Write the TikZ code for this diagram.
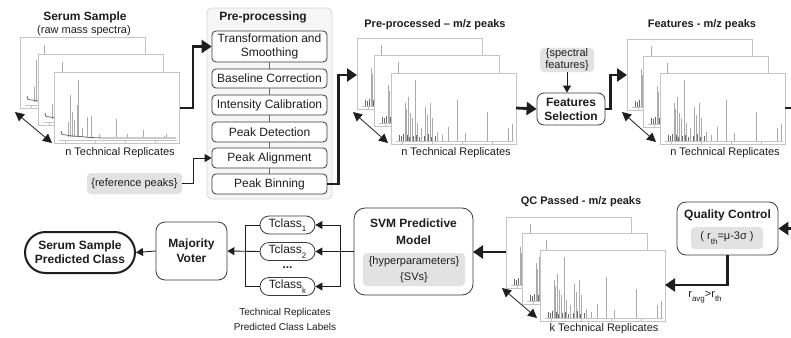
\documentclass[tikz,border=0pt]{standalone}
\usepackage{fontspec}
\setmainfont{Liberation Sans}
\usetikzlibrary{arrows.meta,calc,shapes.misc}

\definecolor{ink}{HTML}{1E1E1E}
\definecolor{boxline}{HTML}{3A3A3A}
\definecolor{chipfill}{HTML}{E2E2E2}
\definecolor{groupfill}{HTML}{F6F6F6}
\definecolor{groupline}{HTML}{D6D6D6}
\definecolor{framegray}{HTML}{C4C4C4}
\definecolor{peakgray}{HTML}{ABABAB}
\definecolor{peakdark}{HTML}{6A6A6A}

\newcommand\fsz[2]{\fontsize{#1}{#2}\selectfont}
\newcommand\lowsub[1]{\raisebox{-0.38em}{\fontsize{8}{8}\selectfont #1}}

% one spectrum panel: #1 = top-left corner, #2 = its content
\newcommand\specpanel[2]{%
  \begin{scope}[shift={(#1)}]
    \fill[white] (0,0) rectangle (125,71);
    \begin{scope}
      \clip (0,0) rectangle (125,71);
      #2
    \end{scope}
    \draw[framegray, line width=0.8pt] (0,0) rectangle (125,71);
  \end{scope}}

% raw mass spectrum: baseline trace with sharp peaks
\newcommand\rawpeaks{%
  \draw[framegray, line width=0.6pt] (5,68) -- (123,68);
  \foreach \t in {11,41,71,101} \draw[framegray, line width=0.6pt] (\t,68) -- (\t,70.5);
  \foreach \p/\h in {14/50,16/23,18/40,20/48,23/33,24/8,28/56,33/45,37/44,45/62,62/47,73/62,89/58,110/64,112/62}
    \draw[peakgray, line width=0.8pt] (\p,65) -- (\p,\h);
  \draw[peakdark, line width=0.8pt] (7,59) -- (8,62.5) -- (12,63) -- (18,64) -- (26,64.5) -- (36,65.5) -- (50,66) -- (122,66);}

% processed spectrum: centroided peak bars
\newcommand\procpeaks{%
  \draw[framegray, line width=0.6pt] (5,68) -- (123,68);
  \foreach \t in {11,41,71,101} \draw[framegray, line width=0.6pt] (\t,68) -- (\t,70.5);
  \foreach \p/\h in {14/30,15/36,17/24,19/40,21/45,24/7,26/50,30/55,34/34,36/42,39/30,41/45,46/59,51/62,57/54,66/27,74/60,96/39,117/55,121/51}
    \draw[peakgray, line width=0.8pt] (\p,67.5) -- (\p,\h);
  \foreach \p/\h in {8/62,10/63,12/61,16/62,18/64,22/63,25/62,28/64,33/63,37/61,40/64,44/63}
    \draw[peakdark, line width=0.8pt] (\p,67.5) -- (\p,\h);}

\begin{document}
\begin{tikzpicture}[x=1pt, y=-1pt,
  procbox/.style={draw=boxline, fill=white, rounded corners=4pt, line width=0.8pt,
    minimum width=115pt, inner sep=0pt, font=\fsz{12}{14}, text=ink, align=center},
  chip/.style={fill=chipfill, rounded corners=4pt, inner sep=0pt, text=ink, align=center},
  bigbox/.style={draw=boxline, fill=white, line width=0.8pt, inner sep=0pt},
  title/.style={font=\bfseries\fsz{11}{13}, text=ink, inner sep=0pt},
  label/.style={font=\fsz{11}{13}, text=ink, inner sep=0pt},
  tclass/.style={draw=boxline, fill=white, rounded rectangle, line width=0.8pt,
    minimum width=55pt, minimum height=18pt, inner sep=0pt, font=\fsz{12}{14}, text=ink},
  thickarr/.style={line width=2.8pt, draw=ink, -{Triangle[length=10pt,width=13pt]}},
  thickline/.style={line width=2.8pt, draw=ink},
  thinarr/.style={line width=0.9pt, draw=ink, -{Triangle[length=7pt,width=8pt]}},
  thinline/.style={line width=0.9pt, draw=ink},
  reparr/.style={line width=0.8pt, draw=ink,
    {Triangle[length=9pt,width=9pt]}-{Triangle[length=9pt,width=9pt]}},
  chain/.style={line width=0.7pt, draw=peakdark}]

\useasboundingbox (0,0) rectangle (791,337);

% ---------- raw serum spectra ----------
\node[title, font=\bfseries\fsz{12}{14}] (rawtitle) at (85,17) {Serum Sample};
\node[label] (rawsub) at (84,31) {(raw mass spectra)};
\specpanel{20,37}{\rawpeaks}
\specpanel{38,54}{\rawpeaks}
\specpanel{54,72}{\rawpeaks}
\coordinate (rawA) at (15,112);
\coordinate (rawB) at (52,143);
\draw[reparr] (rawA) -- (rawB);
\node[label] (rawrep) at (120,153) {n Technical Replicates};
\coordinate (rawout) at (180,108);

% ---------- pre-processing group ----------
\node[fill=groupfill, draw=groupline, line width=0.8pt, rounded corners=5pt,
  minimum width=125pt, minimum height=191pt, inner sep=0pt] (prep) at (269.5,103.5) {};
\node[title, font=\bfseries\fsz{12}{14}] (preptitle) at (263,17) {Pre-processing};
\node[procbox, minimum height=31pt] (trans) at (269.5,46.5) {Transformation and\\Smoothing};
\node[procbox, minimum height=19pt] (base) at (269.5,78.5) {Baseline Correction};
\node[procbox, minimum height=20pt] (intens) at (269.5,105) {Intensity Calibration};
\node[procbox, minimum height=20pt] (detect) at (269.5,132) {Peak Detection};
\node[procbox, minimum height=20pt] (align) at (269.5,158) {Peak Alignment};
\node[procbox, minimum height=20pt] (binning) at (269.5,184) {Peak Binning};
\draw[chain] (trans) -- (base);
\draw[chain] (base) -- (intens);
\draw[chain] (intens) -- (detect);
\draw[chain] (detect) -- (align);
\draw[chain] (align) -- (binning);

\node[chip, minimum width=95pt, minimum height=21pt, font=\fsz{11}{13}] (refp) at (134.5,183.5) {\{reference peaks\}};
\draw[thinarr] (refp.east) -- ++(11,0) |- (align.west);
\draw[thickarr] (rawout) -- ++(13,0) |- (trans.west);

% ---------- pre-processed spectra ----------
\node[title] (pptitle) at (435,25) {Pre-processed -- m/z peaks};
\specpanel{357,38}{\procpeaks}
\specpanel{374,55}{\procpeaks}
\specpanel{391,73}{\procpeaks}
\coordinate (ppin) at (357,75);
\coordinate (ppout) at (516,108);
\coordinate (ppA) at (353,112);
\coordinate (ppB) at (388,143);
\draw[reparr] (ppA) -- (ppB);
\node[label] (pprep) at (456,153) {n Technical Replicates};
\draw[thickarr] (binning.east) -- ++(11,0) |- (ppin);

% ---------- feature selection ----------
\node[bigbox, rounded corners=7pt, minimum width=68pt, minimum height=32pt,
  font=\bfseries\fsz{12}{14}, text=ink, align=center] (fsel) at (571,109) {Features\\Selection};
\node[chip, minimum width=54pt, minimum height=24pt, font=\fsz{11}{12}] (specf) at (567,60) {\{spectral\\features\}};
\draw[thinarr] (specf.south) -- (specf.south |- fsel.north);
\draw[thickarr] (ppout) -- (fsel.west);

% ---------- selected feature spectra ----------
\node[title] (fttitle) at (702,25) {Features - m/z peaks};
\specpanel{627,39}{\procpeaks}
\specpanel{643,56}{\procpeaks}
\specpanel{660,73}{\procpeaks}
\coordinate (ftin) at (627,75);
\coordinate (ftout) at (785,108);
\coordinate (ftA) at (622,112);
\coordinate (ftB) at (656,142);
\draw[reparr] (ftA) -- (ftB);
\node[label] (ftrep) at (725,153) {n Technical Replicates};
\draw[thickarr] (fsel.east) -- ++(5,0) |- (ftin);

% ---------- quality control ----------
\node[bigbox, rounded corners=9pt, minimum width=101pt, minimum height=53pt] (qc) at (727.5,228.5) {};
\node[title, font=\bfseries\fsz{12}{14}] (qctitle) at (727.5,215) {Quality Control};
\node[chip, minimum width=72pt, minimum height=22pt, font=\fsz{11}{13}] (qcrule) at (727,238)
  {( r\lowsub{th}=μ-3σ )};
\draw[thickarr] (ftout) -- ++(40,0) |- (qc.east);

% ---------- QC passed spectra ----------
\node[title] (qptitle) at (581,202) {QC Passed - m/z peaks};
\specpanel{506,217}{\procpeaks}
\specpanel{522,233}{\procpeaks}
\specpanel{540,250}{\procpeaks}
\coordinate (qpin) at (665,285);
\coordinate (qpout) at (506,252);
\coordinate (qpA) at (502,288);
\coordinate (qpB) at (537,318);
\draw[reparr] (qpA) -- (qpB);
\node[label] (qprep) at (604,329) {k Technical Replicates};
\draw[thickarr] (qc.south) |- (qpin);
\node[label] (qclabel) at (705,297) {r\lowsub{avg}>r\lowsub{th}};

% ---------- SVM model ----------
\node[bigbox, rounded corners=11pt, minimum width=119pt, minimum height=87pt] (svm) at (413.5,251.5) {};
\node[title, font=\bfseries\fsz{12}{17}, align=center] (svmtitle) at (413.5,231.5) {SVM Predictive\\Model};
\node[chip, minimum width=102pt, minimum height=33pt, font=\fsz{11}{16}] (svmpar) at (414,269.5)
  {\{hyperparameters\}\\\{SVs\}};
\coordinate (svmin) at (473,252);
\draw[thickarr] (qpout) -- (svmin);

% ---------- per-replicate class labels ----------
\node[tclass] (tc1) at (287.5,225) {Tclass\lowsub{1}};
\node[tclass] (tc2) at (287.5,251.5) {Tclass\lowsub{2}};
\node[tclass] (tck) at (287.5,286.5) {Tclass\lowsub{k}};
\node[font=\bfseries\fsz{12}{14}, text=ink, inner sep=0pt] (dots) at (287.5,268) {...};
\coordinate (rb1) at (340,225);
\coordinate (rbk) at (340,286.5);
\coordinate (lb1) at (245,225);
\coordinate (lbk) at (245,286.5);
\draw[thinline] (rb1) -- (rbk);
\draw[thinarr] (rb1) -- (tc1.east);
\draw[thinarr] (rbk) -- (tck.east);
\draw[thinarr] (svm.west) -- (tc2.east);
\draw[thinline] (tc1.west) -- (lb1) -- (lbk) -- (tck.west);
\node[font=\fsz{10}{15}, text=ink, align=center, inner sep=0pt] (tccap) at (285,319.5)
  {Technical Replicates\\Predicted Class Labels};

% ---------- vote and final class ----------
\node[bigbox, rounded corners=9pt, minimum width=71pt, minimum height=58pt,
  font=\bfseries\fsz{12}{15}, text=ink, align=center] (mv) at (191.5,251) {Majority\\Voter};
\draw[thinarr] (tc2.west) -- (mv.east);
\node[draw=ink, fill=white, rounded rectangle, line width=2pt, minimum width=110pt,
  minimum height=41pt, inner sep=0pt, font=\bfseries\fsz{12}{14}, text=ink, align=center]
  (result) at (80,252.5) {Serum Sample\\Predicted Class};
\draw[thinarr] (mv.west) -- (result.east);

\end{tikzpicture}
\end{document}
